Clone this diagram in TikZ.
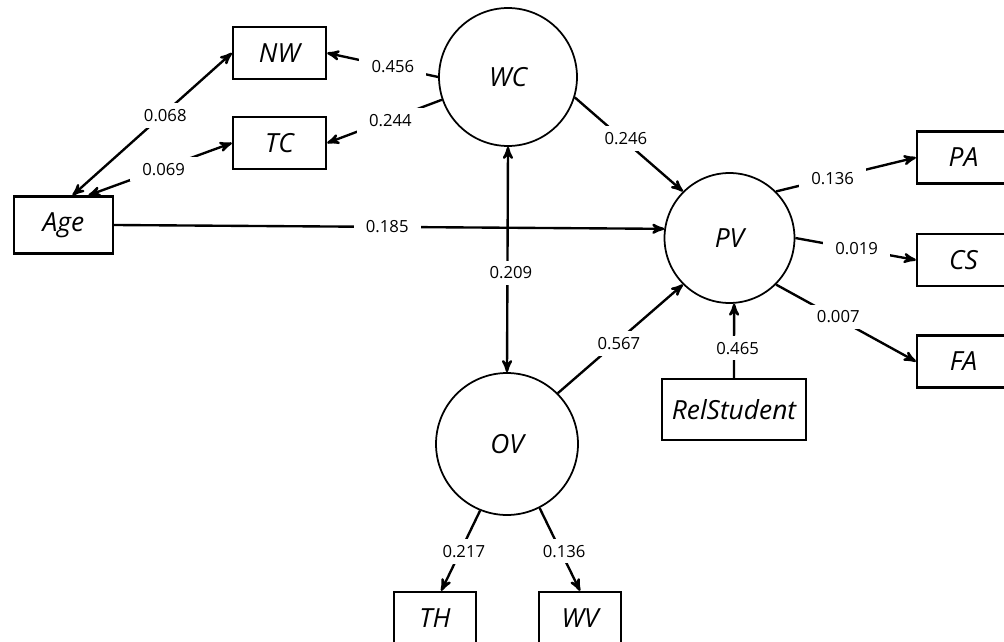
\documentclass[tikz,border=0pt]{standalone}
\usepackage{fontspec}
\setmainfont{Open Sans}
\usetikzlibrary{arrows}

\begin{document}
\begin{tikzpicture}[->,>=stealth',line width=1.35pt,x=0.02cm,y=-0.02cm]
    \tikzstyle{var}=[draw, rectangle, ->, inner sep=0pt, minimum width=1.86cm, minimum height=1.04cm, font=\itshape\fontsize{15}{18}\selectfont]
    \tikzstyle{lat}=[draw, circle, line width=1pt, inner sep=0pt, font=\itshape\fontsize{15}{18}\selectfont]
    \tikzstyle{lbl}=[fill=white, inner xsep=7pt, inner ysep=3.5pt, xshift=2pt, font=\fontsize{9.5}{11}\selectfont]

    \useasboundingbox (0,0) rectangle (1004,642);

    % latent variables
    \node[lat, minimum size=2.76cm] (wc) at (508,77)    {WC};
    \node[lat, minimum size=2.6cm]  (pv) at (729.5,238) {PV};
    \node[lat, minimum size=2.84cm] (ov) at (507,444)   {OV};

    % indicators
    \node[var] (nw) at (279.5,53)  {NW};
    \node[var] (tc) at (279.5,143) {TC};
    \node[var, minimum width=1.98cm, minimum height=1.14cm] (age) at (63.5,225) {Age};
    \node[var, minimum width=2.88cm, minimum height=1.22cm] (rel) at (734,409.5) {RelStudent};
    \node[var] (pa) at (963.5,157.5) {PA};
    \node[var] (cs) at (963.5,260)   {CS};
    \node[var] (fa) at (963.5,361.5) {FA};
    \node[var, minimum width=1.64cm] (th) at (435,618) {TH};
    \node[var, minimum width=1.64cm] (wv) at (580,618) {WV};

    \path
     (age.73)  edge[<->] node[lbl,pos=.56] (l-age-nw) {0.068} (nw.west)
     (age.50)  edge[<->] node[lbl,pos=.5]  (l-age-tc) {0.069} (tc.west)
     (wc.west) edge node[lbl,pos=.44] (l-wc-nw) {0.456} (nw.east)
     (wc.199)  edge node[lbl,pos=.48] (l-wc-tc) {0.244} (tc.east)
     (age.east) edge node[lbl,pos=.49] (l-age-pv) {0.185} (pv.172)
     (wc.-17)  edge node[lbl,pos=.44] (l-wc-pv) {0.246} (pv.135)
     (wc.south) edge[<->] node[lbl,pos=.56] (l-wc-ov) {0.209} (ov.north)
     (ov.45)   edge node[lbl,pos=.46] (l-ov-pv) {0.567} (pv.225)
     (rel.north) edge node[lbl,pos=.4] (l-rel-pv) {0.465} (pv.-86)
     (pv.45)   edge node[lbl,pos=.38] (l-pv-pa) {0.136} (pa.west)
     (pv.east) edge node[lbl,pos=.48] (l-pv-cs) {0.019} (cs.west)
     (pv.-45)  edge node[lbl,pos=.42] (l-pv-fa) {0.007} (fa.west)
     (ov.-112) edge node[lbl,pos=.51] (l-ov-th) {0.217} (th.77)
     (ov.-63)  edge node[lbl,pos=.52] (l-ov-wv) {0.136} (wv.north)
     ;
\end{tikzpicture}
\end{document}
